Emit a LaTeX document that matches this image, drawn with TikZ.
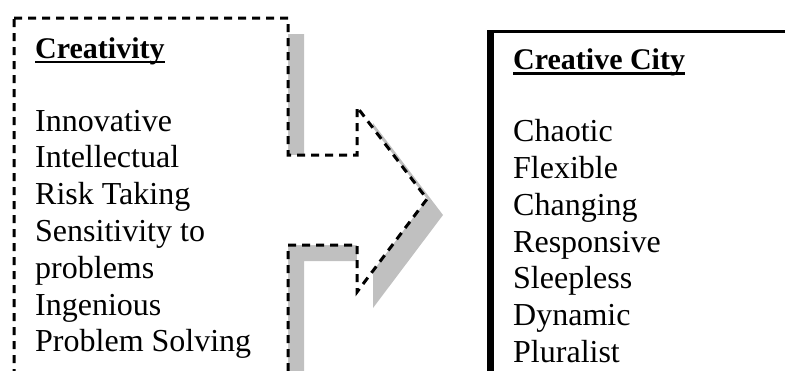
\documentclass[tikz,border=0pt]{standalone}
\usepackage{fontspec}
\setmainfont{Liberation Serif}

\definecolor{shadowgray}{RGB}{192,192,192}

% outline of the left box with its arrow, in pixel-like units (y down)
\newcommand{\notchbox}[1]{%
 \draw [#1] (14,18) -- (288,18) -- (288,155) -- (357,155) -- (357,107) -- (427,199)
   -- (357,292) -- (357,245) -- (288,245) -- (288,380) -- (14,380) -- cycle;}

\tikzset{
  heading/.style={anchor=base west, inner sep=0pt, font=\fontsize{30}{36.8}\selectfont\bfseries},
  entry/.style={anchor=base west, inner sep=0pt, font=\fontsize{32}{36.8}\selectfont},
  underl/.style={line width=2.8pt},
}

\begin{document}
\begin{tikzpicture}[x=1pt, y=-1pt]
\clip (0,0) rectangle (785,370);
%\draw [red!30] (0,0) grid [step=50] (785,370);

\notchbox{draw=none, fill=shadowgray, shift={(16,16)}}
\notchbox{fill=white, line width=3pt, dash pattern=on 8pt off 6pt}

\node [heading] (creativity) at (35,58) {Creativity};
\draw [underl] ([yshift=-4pt]creativity.base west) -- ([yshift=-4pt]creativity.base east);
\foreach \word [count=\i] in {Innovative, Intellectual, Risk Taking, Sensitivity to,
    problems, Ingenious, Problem Solving}
  \node [entry] (c\i) at (35,{131+36.8*(\i-1)}) {\word};

% right box, heavy rule on the left side
\fill (487,30) rectangle (494,380);
\draw [line width=2.8pt] (487,31.5) -- (790,31.5);

\node [heading] (city) at (513,69.5) {Creative City};
\draw [underl] ([yshift=-4pt]city.base west) -- ([yshift=-4pt]city.base east);
\foreach \word [count=\i] in {Chaotic, Flexible, Changing, Responsive, Sleepless,
    Dynamic, Pluralist}
  \node [entry] (k\i) at (513,{141.6+36.8*(\i-1)}) {\word};

\end{tikzpicture}
\end{document}
